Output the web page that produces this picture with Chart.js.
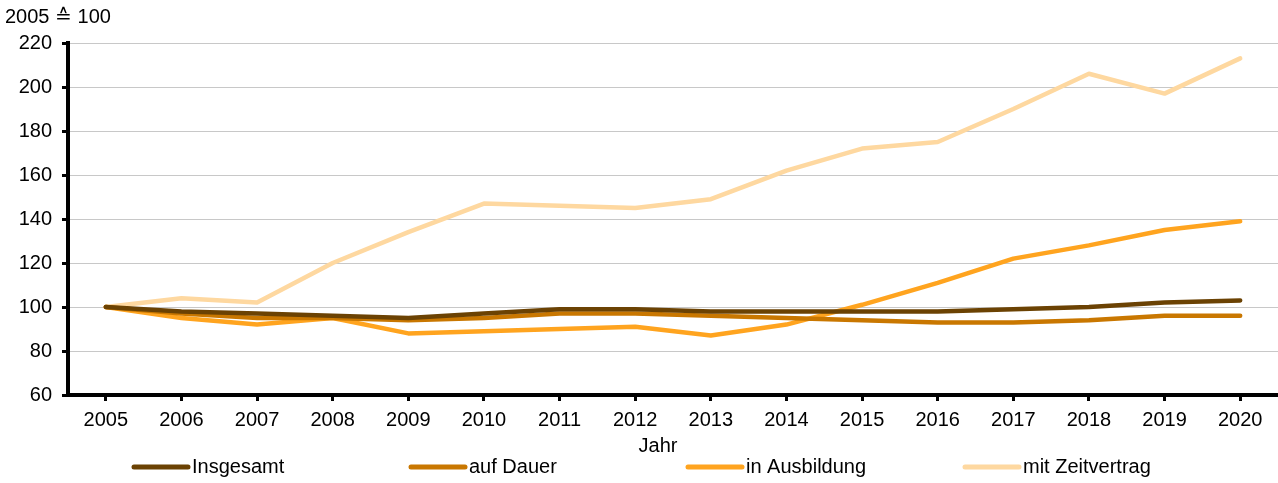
<!DOCTYPE html>
<html>
<head>
<meta charset="utf-8">
<script src="https://cdn.jsdelivr.net/npm/chart.js@4"></script>
<style>
  body { margin: 0; background: #fff; }
  #wrap { width: 1278px; height: 483px; }
</style>
</head>
<body>
<div id="wrap"><canvas id="chart" width="1278" height="483"></canvas></div>
<script>
const years = ["2005", "2006", "2007", "2008", "2009", "2010", "2011", "2012",
  "2013", "2014", "2015", "2016", "2017", "2018", "2019", "2020"];
const insgesamt = [100, 98, 97, 96, 95, 97, 99, 99, 98, 98, 98, 98, 99, 100, 102, 103];
const aufDauer = [100, 97, 95, 95, 94, 95, 97, 97, 96, 95, 94, 93, 93, 94, 96, 96];
const inAusbildung = [100, 95, 92, 95, 88, 89, 90, 91, 87, 92, 101, 111, 122, 128, 135, 139];
const mitZeitvertrag = [100, 104, 102, 120, 134, 147, 146, 145, 149, 162, 172, 175, 190, 206, 197, 213];
const seriesNames = ["Insgesamt", "auf Dauer", "in Ausbildung", "mit Zeitvertrag"];
const seriesColors = ["#6b4203", "#c97700", "#ffa41f", "#fed8a0"];
const yMin = 60, yMax = 220, yStep = 20;
const unitLabel = "2005 \u2259 100";
const xTitle = "Jahr";

const FONT = "'Liberation Sans', Arial, sans-serif";
const FONT_SIZE = 20;

const datasets = [insgesamt, aufDauer, inAusbildung, mitZeitvertrag].map((vals, i) => ({
  label: seriesNames[i],
  data: vals,
  borderColor: seriesColors[i],
  backgroundColor: seriesColors[i],
  borderWidth: 4.5,
  borderCapStyle: "round",
  borderJoinStyle: "round",
  pointRadius: 0,
  tension: 0,
  fill: false,
}));

// unit label top-left, axis title and the legend row
const extras = {
  id: "extras",
  afterDraw(chart) {
    const ctx = chart.ctx;
    ctx.save();
    ctx.fillStyle = "#000";
    ctx.font = FONT_SIZE + "px " + FONT;
    ctx.textBaseline = "middle";
    ctx.textAlign = "left";
    ctx.fillText(unitLabel, 5, 17);

    ctx.textAlign = "center";
    ctx.fillText(xTitle, 658, 446);

    ctx.textAlign = "left";
    const y = 467;
    chart.data.datasets.forEach((ds, i) => {
      const x = 134 + i * 277;
      ctx.strokeStyle = ds.borderColor;
      ctx.lineWidth = 5;
      ctx.lineCap = "round";
      ctx.beginPath();
      ctx.moveTo(x, y);
      ctx.lineTo(x + 54, y);
      ctx.stroke();
      ctx.fillStyle = "#000";
      ctx.fillText(ds.label, x + 58, y);
    });
    ctx.restore();
  },
};

new Chart(document.getElementById("chart"), {
  type: "line",
  data: { labels: years, datasets: datasets },
  options: {
    responsive: false,
    animation: false,
    devicePixelRatio: 1,
    layout: { padding: { top: 43, right: 0, bottom: 26, left: 0 } },
    plugins: {
      legend: { display: false },
      tooltip: { enabled: false },
    },
    scales: {
      x: {
        offset: true,
        grid: {
          offset: false,
          drawOnChartArea: false,
          drawTicks: true,
          tickLength: 6,
          tickWidth: 3,
          tickColor: "#000",
        },
        border: { color: "#000", width: 4 },
        ticks: { color: "#000", font: { family: FONT, size: FONT_SIZE }, padding: 7, maxRotation: 0 },
        afterFit(scale) { scale.height = 62; },
      },
      y: {
        min: yMin,
        max: yMax,
        grid: {
          color: "#c8c8c8",
          lineWidth: 1,
          tickLength: 6,
          tickWidth: 3,
          tickColor: "#000",
        },
        border: { color: "#000", width: 4 },
        ticks: { stepSize: yStep, color: "#000", font: { family: FONT, size: FONT_SIZE }, padding: 10 },
        afterFit(scale) { scale.width = 68; },
      },
    },
  },
  plugins: [extras],
});
</script>
</body>
</html>
